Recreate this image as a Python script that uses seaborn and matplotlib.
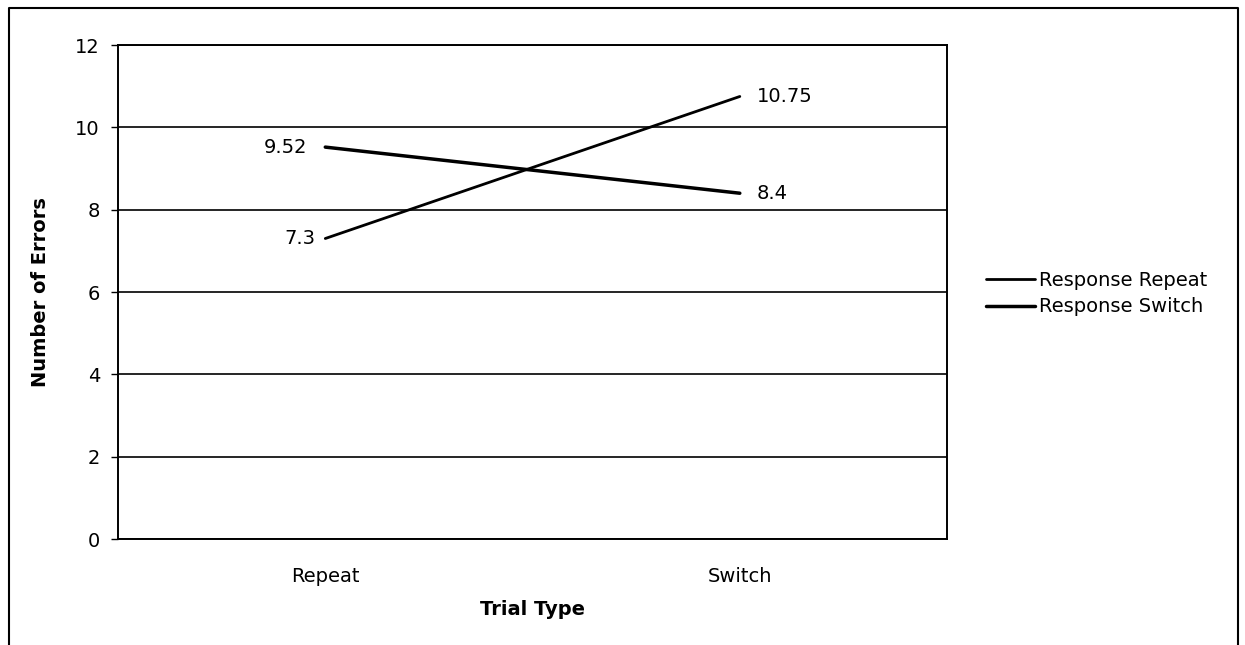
import pandas as pd
import seaborn as sns
import matplotlib.pyplot as plt
from matplotlib.lines import Line2D

# Values
trial_types = ['Repeat', 'Switch']
response_repeat = [7.3, 10.75]
response_switch = [9.52, 8.4]
series_names = ['Response Repeat', 'Response Switch']

df = pd.DataFrame({
    'Trial Type': trial_types * 2,
    'Errors': response_repeat + response_switch,
    'Series': [series_names[0]] * 2 + [series_names[1]] * 2,
})

sns.set_style('white')
plt.rcParams['font.family'] = ['DejaVu Sans']
for key in ['text.color', 'axes.labelcolor', 'xtick.color', 'ytick.color']:
    plt.rcParams[key] = 'black'

fs = 14

fig = plt.figure(figsize=(12.45, 6.45), dpi=100)
ax = fig.add_axes([0.0948, 0.1643, 0.6659, 0.7659])

sns.lineplot(data=df, x='Trial Type', y='Errors', hue='Series',
             palette=['black', 'black'], size='Series', sizes=[2.0, 2.5],
             legend=False, ax=ax)

# data labels
for i, v in enumerate(response_repeat):
    if i == 0:
        ax.annotate(f'{v:g}', (i, v), xytext=(-7, 0), textcoords='offset points',
                    ha='right', va='center', fontsize=fs)
    else:
        ax.annotate(f'{v:g}', (i, v), xytext=(12, 0), textcoords='offset points',
                    ha='left', va='center', fontsize=fs)
for i, v in enumerate(response_switch):
    if i == 0:
        ax.annotate(f'{v:g}', (i, v), xytext=(-13, 0), textcoords='offset points',
                    ha='right', va='center', fontsize=fs)
    else:
        ax.annotate(f'{v:g}', (i, v), xytext=(12, 0), textcoords='offset points',
                    ha='left', va='center', fontsize=fs)

ax.set_xlim(-0.5, 1.5)
ax.set_ylim(0, 12)
ax.set_yticks(range(0, 13, 2))
ax.yaxis.grid(True, color='black', linewidth=1.2)
ax.set_axisbelow(True)
for s in ax.spines.values():
    s.set_visible(True)
    s.set_color('black')
    s.set_linewidth(1.4)

ax.set_xticks([0, 1])
ax.set_xticks([-0.5, 0.5, 1.5], minor=True)
ax.tick_params(axis='x', which='major', length=0, pad=20, labelsize=fs)
ax.tick_params(axis='x', which='minor', length=5, width=1, color='black', direction='out')
ax.tick_params(axis='y', length=5, width=1, color='black', direction='out', pad=8,
               labelsize=fs, left=True)

ax.set_xlabel('Trial Type', fontsize=fs, fontweight='bold', labelpad=10)
ax.set_ylabel('Number of Errors', fontsize=fs, fontweight='bold', labelpad=18)

handles = [Line2D([], [], color='black', linewidth=2.0),
           Line2D([], [], color='black', linewidth=2.5)]
fig.legend(handles, series_names, loc='center left', bbox_to_anchor=(0.778, 0.545),
           frameon=False, fontsize=fs, handlelength=2.5, handletextpad=0.2,
           labelspacing=0.4)

# outer chart border (left, top, right)
fig.add_artist(Line2D([9 / 1245, 9 / 1245, 1238 / 1245, 1238 / 1245],
                      [0, 1 - 8 / 645, 1 - 8 / 645, 0],
                      transform=fig.transFigure, color='black', linewidth=1.5))

fig.savefig('out.png', dpi=100)
